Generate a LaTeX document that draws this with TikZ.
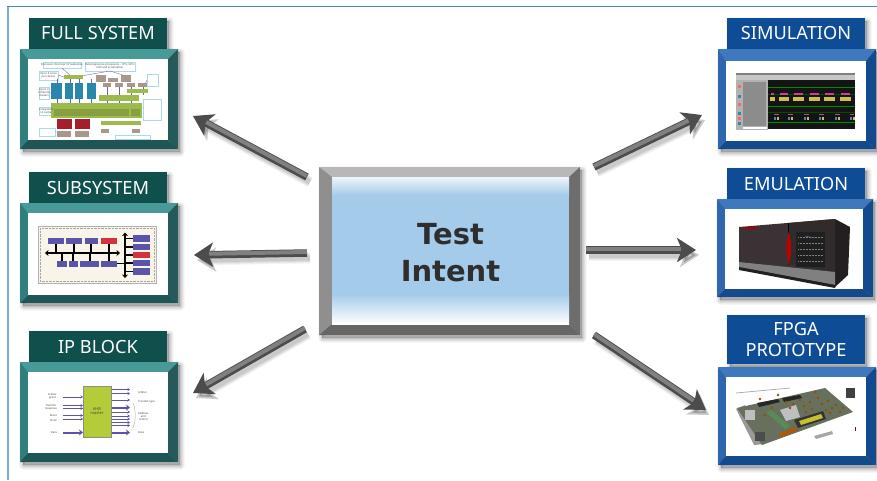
\documentclass[tikz,border=0pt]{standalone}
\usepackage{fontspec}
\setmainfont{Noto Sans}
\newfontfamily\heavyfont{DejaVu Sans}
\usetikzlibrary{arrows.meta,calc}
\definecolor{tealTitle}{HTML}{0F4F4C}
\definecolor{tealTop}{HTML}{479A98}
\definecolor{tealLeft}{HTML}{2F7F7D}
\definecolor{tealRight}{HTML}{25595A}
\definecolor{tealBottom}{HTML}{1F5655}
\definecolor{blueTitle}{HTML}{0E4C96}
\definecolor{blueTop}{HTML}{3F78BD}
\definecolor{blueLeft}{HTML}{2F66AD}
\definecolor{blueRight}{HTML}{134A8E}
\definecolor{blueBottom}{HTML}{134A8E}
\definecolor{greyTop}{HTML}{B9B7B8}
\definecolor{greyLeft}{HTML}{8F8F8F}
\definecolor{greyRight}{HTML}{6D6D6D}
\definecolor{greyBottom}{HTML}{666666}
\definecolor{sky}{HTML}{A5CBEA}
\definecolor{lineBlue}{HTML}{4A86C8}
\definecolor{chipGreen}{HTML}{9CBB4C}
\definecolor{chipBlue}{HTML}{2B86AE}
\definecolor{chipRed}{HTML}{A51E2A}
\definecolor{chipTan}{HTML}{A8978A}
\definecolor{noteBlue}{HTML}{A9DAEA}
\definecolor{busBlue}{HTML}{5A55A8}
\definecolor{busRed}{HTML}{D5323F}
\definecolor{cream}{HTML}{F8F5E8}
\definecolor{pinkBar}{HTML}{D0408F}
\definecolor{yellowBar}{HTML}{C9C24A}
\definecolor{boardGrey}{HTML}{66705C}
\definecolor{caseDark}{HTML}{3A3234}
\definecolor{caseDarker}{HTML}{231F20}
\tikzset{
  titletext/.style={text=white,font=\fontsize{18.2}{21}\selectfont,align=center,inner sep=0pt},
  centertext/.style={text=black!82,font=\heavyfont\bfseries\fontsize{29}{37}\selectfont,align=center,inner sep=0pt},
  tinytext/.style={font=\fontsize{2.7}{3}\selectfont,inner sep=0pt,align=center,text=black!70},
  notebox/.style={draw=noteBlue,fill=white,line width=.6pt},
  wire/.style={blue!45!black!60,line width=.35pt},
  thinarrow/.style={busBlue,line width=.5pt,-{Stealth[length=2.5pt,width=3pt]}},
  fatarrow/.style={busBlue,line width=2pt,-{Stealth[length=4pt,width=6pt]}},
  busline/.style={black,line width=2.6pt,{Stealth[length=3.5pt,width=6pt]}-{Stealth[length=3.5pt,width=6pt]}},
  stub/.style={black,line width=1.3pt}
}
% soft shadow of a rectangle
\newcommand{\softshadow}[4]{%
  \foreach \w/\o in {9/.03,7/.04,5/.05,3/.06,1/.07}{
    \fill[black,opacity=\o,draw=black,draw opacity=\o,line width=\w pt,line join=round]
      (#1+3,#2+3) rectangle (#3+2,#4+3);}}
% bevelled frame: outer box, inner box, four colours
\newcommand{\bevelframe}[8]{%
  \softshadow{#1}{#2}{#3}{#4}
  \fill[#5] (#1,#2)--(#3,#2)--(\ixB,\iyA)--(\ixA,\iyA)--cycle;
  \fill[#6] (#1,#2)--(\ixA,\iyA)--(\ixA,\iyB)--(#1,#4)--cycle;
  \fill[#7] (#3,#2)--(\ixB,\iyA)--(\ixB,\iyB)--(#3,#4)--cycle;
  \fill[#8] (#1,#4)--(\ixA,\iyB)--(\ixB,\iyB)--(#3,#4)--cycle;
}
\newcommand{\titlebar}[5]{%
  \softshadow{#1}{#2}{#3}{#4}
  \fill[#5] (#1,#2) rectangle (#3,#4);
}
% 3-D looking arrow between two named coordinates
\newcommand{\fatlink}[2]{%
  \foreach \w/\o in {11/.04,9/.05,7/.06,5/.07}{
    \draw[transform canvas={shift={(3pt,-5pt)}},black,opacity=\o,line width=\w pt,
      -{Stealth[length=19pt,width=24pt,inset=5pt]}] (#1)--(#2);}
  \draw[black!70,line width=7.5pt,-{Stealth[length=19pt,width=24pt,inset=5pt]}] (#1)--(#2);
  \draw[transform canvas={shift={(0pt,1pt)}},black!50,line width=4pt,shorten >=15pt] (#1)--(#2);
}
\begin{document}
\begin{tikzpicture}[x=1pt,y=-1pt]
\useasboundingbox (0,0) rectangle (877,480);
\fill[white] (0,0) rectangle (877,480);
% outer rule
\draw[lineBlue!70,line width=1.4pt] (8,480)--(8,6.5);
\draw[lineBlue,line width=1.2pt] (7.3,6.5)--(877,6.5);

% ---------- centre box
\def\ixA{332}\def\iyA{177}\def\ixB{569}\def\iyB{324}
\bevelframe{319}{167}{580}{335}{greyTop}{greyLeft}{greyRight}{greyBottom}
\fill[top color=white!80!sky,bottom color=sky] (332,177) rectangle (569,195);
\fill[sky] (332,195) rectangle (569,294);
\fill[top color=sky,bottom color=white] (332,294) rectangle (569,324);
\node[centertext] (intent) at (450.5,252.5) {Test\\Intent};

% ---------- arrows
\coordinate (a1s) at (307,177); \coordinate (a1e) at (193,116);
\coordinate (a2s) at (307,253); \coordinate (a2e) at (194,255);
\coordinate (a3s) at (305,329); \coordinate (a3e) at (193,393);
\coordinate (a4s) at (594,167); \coordinate (a4e) at (702,115);
\coordinate (a5s) at (586,250); \coordinate (a5e) at (696,250);
\coordinate (a6s) at (594,335); \coordinate (a6e) at (706,410);
\fatlink{a1s}{a1e}\fatlink{a2s}{a2e}\fatlink{a3s}{a3e}
\fatlink{a4s}{a4e}\fatlink{a5s}{a5e}\fatlink{a6s}{a6e}

% ---------- left column
\titlebar{29}{18}{167}{49}{tealTitle}
\node[titletext] (tfull) at (98,33) {FULL SYSTEM};
\def\ixA{28}\def\iyA{59}\def\ixB{168}\def\iyB{140}
\bevelframe{20}{49}{178}{149}{tealTop}{tealLeft}{tealRight}{tealBottom}
\fill[white] (28,59) rectangle (168,140);

\titlebar{29}{172}{167}{203}{tealTitle}
\node[titletext] (tsub) at (98,188) {SUBSYSTEM};
\def\ixA{28}\def\iyA{213}\def\ixB{168}\def\iyB{295}
\bevelframe{20}{203}{178}{303}{tealTop}{tealLeft}{tealRight}{tealBottom}
\fill[white] (28,213) rectangle (168,295);

\titlebar{29}{331}{167}{362}{tealTitle}
\node[titletext] (tip) at (98,346.5) {IP BLOCK};
\def\ixA{28}\def\iyA{372}\def\ixB{168}\def\iyB{453}
\bevelframe{20}{362}{178}{462}{tealTop}{tealLeft}{tealRight}{tealBottom}
\fill[white] (28,372) rectangle (168,453);

% ---------- right column
\titlebar{727}{18}{865}{49}{blueTitle}
\node[titletext] (tsim) at (796,33) {SIMULATION};
\def\ixA{726}\def\iyA{61}\def\ixB{866}\def\iyB{141}
\bevelframe{718}{49}{876}{149}{blueTop}{blueLeft}{blueRight}{blueBottom}
\fill[white] (726,61) rectangle (866,141);

\titlebar{727}{168}{865}{199}{blueTitle}
\node[titletext] (temu) at (796,183.5) {EMULATION};
\def\ixA{725}\def\iyA{209}\def\ixB{863}\def\iyB{289}
\bevelframe{717}{199}{873}{297}{blueTop}{blueLeft}{blueRight}{blueBottom}
\fill[white] (725,209) rectangle (863,289);

\titlebar{727}{315}{865}{364}{blueTitle}
\node[titletext] (tfpga) at (796,339) {FPGA\\PROTOTYPE};
\def\ixA{726}\def\iyA{377}\def\ixB{866}\def\iyB{456}
\bevelframe{718}{367}{876}{465}{blueTop}{blueLeft}{blueRight}{blueBottom}
\fill[white] (726,377) rectangle (866,456);

% ---------- thumbnail: full system
\foreach \a/\b/\c/\d in {43/62/81/68,85/62/135/71,39/71/58/80,39/87/49/99,39/107/53/115,39/128/55/136,147/74/158/86,143/99/161/120,115/135/150/139}
  \draw[notebox] (\a,\b) rectangle (\c,\d);
\draw[wire] (62,68)--(72,77) (110,71)--(75,77) (110,71)--(126,76) (58,75)--(64,77) (49,93)--(51,93) (53,111)--(57,111) (55,132)--(57,132) (147,80)--(143,88) (143,108)--(142,108);
\foreach \x in {57,70,79,91}{\draw[wire] (\x,79)--(\x,103);}
\foreach \x in {107,119,131,143}{\draw[wire] (\x,87)--(\x,95);}
\foreach \x in {107,119,131}{\draw[wire] (\x,101)--(\x,103);}
\foreach \a/\c in {51/62,65/73,75/83,87/96}
  \fill[chipBlue] (\a,83) rectangle (\c,99);
\fill[chipGreen] (64,75) rectangle (83,79);
\fill[chipGreen] (99,95) rectangle (139,101);
\fill[chipGreen] (127,89) rectangle (148,93);
\fill[chipGreen] (51,103) rectangle (142,118);
\fill[chipGreen!85!black] (54,109) rectangle (129,116);
\fill[chipGreen!85!black] (131,109) rectangle (140,116);
\fill[chipGreen] (101,121) rectangle (141,125);
\foreach \a in {57,75}{
  \fill[chipRed] (\a,119) rectangle (\a+15,129);
  \fill[chipTan] (\a,131) rectangle (\a+14,137);}
\foreach \a/\b/\c/\d in {96/75/106/82,108/78/118/82,121/75/131/82,103/83/111/87,115/83/123/87,127/83/135/87,138/83/147/87,101/129/109/133,132/129/140/133}
  \fill[chipTan] (\a,\b) rectangle (\c,\d);
\node[tinytext] (n1) at (62,65) {Processor Interrupt Virtualization};
\node[tinytext] (n2) at (110,66.5) {Heterogeneous processors -- CPU, GPU,\\DSP and acceleration};
\node[tinytext] (n3) at (48.5,75.5) {Up to 4 cores\\per cluster};
\node[tinytext] (n4) at (44,93) {Up to 4\\coherent\\clusters};
\node[tinytext] (n5) at (46,111) {Integrated\\L3 cache};

% ---------- thumbnail: subsystem
\draw[black!30,fill=cream,line width=.5pt] (38,226) rectangle (156,283);
\draw[black!35,densely dotted,line width=.4pt] (40,228) rectangle (154,281);
\foreach \x in {56,74,91,109}{\draw[stub] (\x,243)--(\x,253);}
\foreach \x in {62,73,90,109}{\draw[stub] (\x,253)--(\x,261);}
\draw[stub] (117,263.5)--(125,263.5);
\foreach \y in {238.5,247,255,263,271.5}{\draw[stub] (125,\y)--(133,\y);}
\draw[busline] (45,253)--(120,253);
\draw[busline] (125,232.5)--(125,278);
\foreach \a/\c in {48/64,66/82,85/98}{\fill[busBlue] (\a,238) rectangle (\c,243.5);}
\fill[busRed] (101,238) rectangle (117,243.5);
\foreach \a/\c in {57/67,69/78,80/99,101/117}{\fill[busBlue] (\a,261) rectangle (\c,267);}
\foreach \b/\d in {235/242,244/250,260/266,268/275}{\fill[busBlue] (133,\b) rectangle (150,\d);}
\fill[busRed] (133,252) rectangle (150,258);

% ---------- thumbnail: IP block
\foreach \y in {397,405.5,408.5,415.5,419}{\draw[thinarrow] (63,\y)--(83,\y);}
\draw[fatarrow] (63,432.5)--(83,432.5);
\foreach \y in {389.5,393.5,400,412,416,419,422.5,425.5}{\draw[thinarrow] (111,\y)--(130,\y);}
\draw[fatarrow] (111,407.5)--(130,407.5);
\draw[fatarrow] (111,432.5)--(130,432.5);
\draw[black!45,line width=.5pt,fill=chipGreen!75!yellow] (83,386) rectangle (111,437);
\node[tinytext,font=\fontsize{4}{4.5}\selectfont] (ahb) at (97,411) {AHB\\master};
\node[tinytext,anchor=east] (l1) at (57,396) {Arbiter\\grant};
\node[tinytext,anchor=east] (l2) at (57,407) {Transfer\\response};
\node[tinytext,anchor=east] (l3) at (57,415.5) {Reset};
\node[tinytext,anchor=east] (l4) at (57,420) {Clock};
\node[tinytext,anchor=east] (l5) at (57,433) {Data};
\node[tinytext,anchor=west] (r1) at (138,392.5) {Arbiter};
\node[tinytext,anchor=west] (r2) at (138,401.5) {Transfer type};
\node[tinytext,anchor=west] (r3) at (138,416) {Address\\and\\control};
\node[tinytext,anchor=west] (r4) at (138,433) {Data};
\draw[black!35,line width=.4pt] (133,403) .. controls (136,410) and (136,420) .. (133,428);

% ---------- thumbnail: simulation
\fill[black!22] (736,73) rectangle (855,80);
\fill[black!50] (736,73) rectangle (855,74.5);
\fill[black!30] (736,80) rectangle (768,130);
\fill[black!45] (743,82) rectangle (766,126);
\fill[white] (743,126.5) rectangle (767,128.5);
\fill[black!92] (768,80) rectangle (855,129);
\foreach \y in {87,106,122}{\draw[green!55!black,line width=.5pt] (768,\y)--(855,\y);}
\foreach \y in {94,112}{\draw[green!30!black,line width=.3pt] (768,\y)--(855,\y);}
\foreach \a/\c in {770/775,779/789,793/804,809/820,824/835,840/851}{
  \fill[pinkBar] (\a+1,92.5) rectangle (\c-1,94.5);
  \fill[yellowBar] (\a,96.5) rectangle (\c,101);}
\foreach \a/\c in {774/779,788/793,804/809,819/824,835/840,850/854}{
  \fill[pinkBar] (\a,113.5) rectangle (\c,115);
  \fill[cyan!70!black] (\a,117) rectangle (\a+1.5,120);
  \fill[yellowBar] (\a+3,117) rectangle (\a+4.5,120);}
\foreach \y/\c in {85/red!60,95/cyan!60!black,103/red!60,112/cyan!60!black,117/red!60,122/cyan!60!black}{
  \fill[\c] (738,\y) rectangle (741,\y+3);}

% ---------- thumbnail: emulation
\fill[caseDark] (739,227)--(835,219)--(835,287)--(739,267)--cycle;
\fill[caseDarker] (835,219)--(850,227)--(848,275)--(835,287)--cycle;
\fill[caseDark!85!black] (789,223)--(835,219)--(835,272)--(789,264)--cycle;
\fill[black!50] (739,262)--(835,272)--(835,285)--(739,267)--cycle;
\fill[caseDarker] (739,267)--(835,285)--(835,288)--(739,270)--cycle;
\fill[black!88] (796,232) rectangle (825,267);
\foreach \y in {237,243,249,255,261}{\draw[black!50,line width=.5pt,densely dotted] (798,\y)--(823,\y);}
\draw[blue!40!black!60,line width=.5pt] (805,236)--(815,238);
\draw[black,line width=.6pt] (788.5,223)--(788.5,265);
\fill[red!75!black] (788.5,232) .. controls (792,243) and (792,252) .. (788.5,265) .. controls (786,252) and (786,243) .. (788.5,232) -- cycle;
\fill[red!65!black] (744,227) rectangle (757,229);

% ---------- thumbnail: FPGA board
\draw[black!35,line width=.7pt] (736,393)--(790,388);
\fill[black!75] (846,388) rectangle (855,398);
\fill[red!60!black] (854.5,427) rectangle (855,431);
\fill[black!40] (736,409)--(745,405)--(764,444)--(754,445)--cycle;
\fill[boardGrey] (737,408)--(825,388)--(853,412)--(762,445)--cycle;
\fill[black!85] (757,403)--(778,399)--(780,402)--(759,407)--cycle;
\fill[black!85] (782,398)--(800,395)--(802,398)--(784,402)--cycle;
\fill[black!25] (780,410)--(796,405)--(800,417)--(786,421)--cycle;
\fill[green!30!black!65] (766,412)--(771,410)--(790,426)--(785,429)--cycle;
\fill[black!80] (794,420)--(823,411)--(826,419)--(798,428)--cycle;
\fill[yellow!75!black] (799,421)--(821,414)--(823,418)--(801,425)--cycle;
\fill[black!25] (745,410) rectangle (755,420);
\fill[black!70] (755,432) rectangle (765,441);
\fill[orange!70!black] (777,435)--(795,427)--(798,430)--(781,437)--cycle;
\foreach \x/\y in {790/408,793/404,804/406,810/402,818/398,822/404,828/401,832/408,836/405,840/412,830/413,826/410,806/412,812/409,760/399,772/408,778/395,815/392,843/408,786/402,800/400,765/415}{
  \fill[orange!60!black] (\x,\y) circle (1.4);}
\fill[black!35] (814,436)--(832,431)--(833,434)--(816,439)--cycle;
\end{tikzpicture}
\end{document}
